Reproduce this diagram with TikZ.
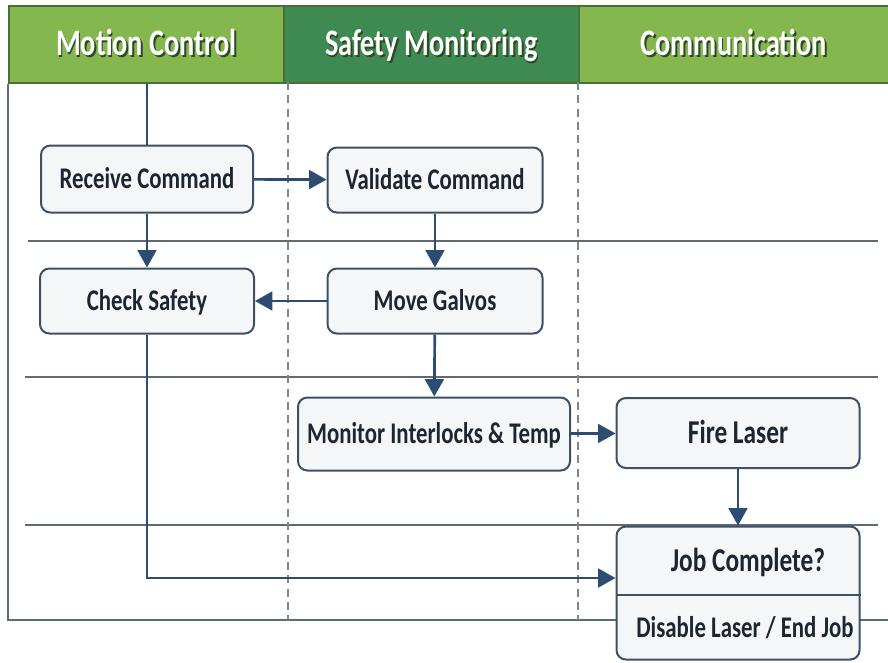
\documentclass[tikz,border=0pt]{standalone}
\usepackage{fontspec}
\setmainfont{Carlito}[FakeStretch=0.76]
\usetikzlibrary{arrows.meta,positioning,calc}

\definecolor{hdlight}{HTML}{84B74D}
\definecolor{hddark}{HTML}{3E8A52}
\definecolor{hdedge}{HTML}{4A6E3A}
\definecolor{hdshadow}{HTML}{2E4A24}
\definecolor{laneline}{HTML}{5E6A76}
\definecolor{boxline}{HTML}{3D5064}
\definecolor{boxfill}{HTML}{F4F6F8}
\definecolor{flowc}{HTML}{2C4C74}
\definecolor{txt}{HTML}{1C2530}

\newlength\pxu
\setlength\pxu{0.75pt}
\newcommand\hdtext[1]{\makebox[0pt][l]{\hspace{1.2pt}\raisebox{-1.5pt}{\textcolor{hdshadow}{#1}}}#1}

\tikzset{
  hdcell/.style={draw=hdedge, line width=1.2pt, minimum height=77\pxu, inner sep=0pt,
                 anchor=north west, text=white, text height=17pt, text depth=0pt,
                 font=\fontsize{28}{32}\selectfont\bfseries},
  boxtxt/.style={inner sep=0pt, text=txt, text height=14.5pt, text depth=0pt,
                 font=\fontsize{22.5}{26}\selectfont\bfseries},
  bigtxt/.style={text height=16pt, font=\fontsize{25}{29}\selectfont\bfseries},
  stepbox/.style={boxtxt, draw=boxline, fill=boxfill, line width=1.5pt, rounded corners=7pt},
  flow/.style={draw=flowc, line width=2pt, -{Triangle[length=13pt,width=14pt]}},
  lane/.style={draw=laneline, line width=1.4pt},
  divider/.style={draw=laneline!80, line width=1pt, dash pattern=on 6pt off 4pt},
}

\begin{document}
\begin{tikzpicture}[x=\pxu, y=-\pxu]
  \useasboundingbox (0,0) rectangle (888,662);

  % lane headers
  \node[hdcell, fill=hdlight, minimum width=275\pxu] (hmc) at (8,5) {\hdtext{Motion Control}};
  \node[hdcell, fill=hddark, minimum width=295\pxu] (hsm) at (283,5) {\hdtext{Safety Monitoring}};
  \node[hdcell, fill=hdlight, minimum width=310\pxu] (hcm) at (578,5) {\hdtext{Communication}};

  % frame, lane separators
  \draw[lane] (hmc.south west) -- (8,620) -- (888,620);
  \draw[lane] (28,241) -- (878,241);
  \draw[lane] (25,377) -- (878,377);
  \draw[lane] (25,525) -- (878,525);
  \draw[divider] (288,82) -- (288,620);
  \draw[divider] (578,82) -- (578,620);

  % steps
  \node[stepbox, minimum width=212\pxu, minimum height=67\pxu] (rc) at (147,179) {Receive Command};
  \node[stepbox, minimum width=215\pxu, minimum height=65\pxu] (vc) at (435,180) {Validate Command};
  \node[stepbox, minimum width=214\pxu, minimum height=65\pxu] (cs) at (147,301) {Check Safety};
  \node[stepbox, minimum width=215\pxu, minimum height=65\pxu] (mg) at (435,301) {Move Galvos};
  \node[stepbox, minimum width=272\pxu, minimum height=73\pxu] (mi) at (434,434) {Monitor Interlocks \& Temp};
  \node[stepbox, bigtxt, minimum width=243\pxu, minimum height=70\pxu] (fl) at (738,433) {Fire Laser};
  \node[stepbox, minimum width=243\pxu, minimum height=133\pxu] (job) at (738,593) {};
  \draw[boxline, line width=1.5pt] (job.west |- 0,595) -- (job.east |- 0,595);
  \node[boxtxt, bigtxt] (jobq) at (748,561) {Job Complete?};
  \node[boxtxt] (jobend) at (745,628) {Disable Laser / End Job};

  % flow
  \coordinate (mctop) at (hmc.south -| rc.north);
  \coordinate (jobin) at (job.west |- 0,578);
  \draw[flow, -] (mctop) -- (rc.north);
  \draw[flow] (rc) -- (vc);
  \draw[flow] (rc) -- (cs);
  \draw[flow] (vc) -- (mg);
  \draw[flow] (mg) -- (cs);
  \draw[flow] (mg) -- (mi);
  \draw[flow] (mi) -- (fl);
  \draw[flow] (fl) -- (job);
  \draw[flow] (cs.south) |- (jobin);
\end{tikzpicture}
\end{document}
